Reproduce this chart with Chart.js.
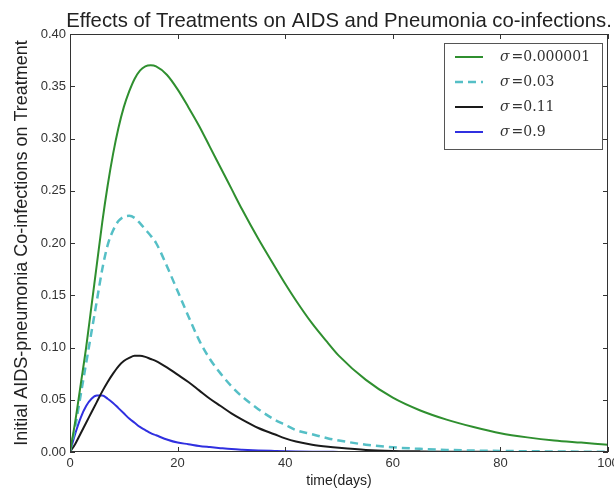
<!DOCTYPE html>
<html>
<head>
<meta charset="utf-8">
<script src="https://cdn.jsdelivr.net/npm/chart.js@4.4.1/dist/chart.umd.min.js"></script>
<style>
  html, body { margin: 0; padding: 0; background: #fff; }
  #wrap { width: 614px; height: 492px; }
</style>
</head>
<body>
<div id="wrap"><canvas id="grafica"></canvas></div>
<script>
// tiempo (días)
const dias = [0, 1, 2, 3, 4, 5, 6, 7, 8, 9, 10, 11, 12, 13, 14, 15, 16,
  18, 20, 22, 24, 26, 28, 30, 32, 35, 38, 40, 42, 45, 48, 50, 55, 60, 65, 70, 75, 80, 85, 90, 95, 100]

// sigma = 0.000001
const serieVerde = [0, 0.030, 0.065, 0.100, 0.140, 0.180, 0.220, 0.255, 0.285, 0.310, 0.330, 0.345, 0.357, 0.365, 0.369, 0.370, 0.369,
  0.361, 0.347, 0.330, 0.312, 0.292, 0.272, 0.252, 0.232, 0.204, 0.178, 0.161, 0.145, 0.123, 0.104, 0.092, 0.069, 0.052, 0.040, 0.031, 0.024, 0.018, 0.014, 0.011, 0.009, 0.007]

// sigma = 0.03
const serieCian = [0, 0.025, 0.055, 0.085, 0.115, 0.145, 0.175, 0.198, 0.212, 0.221, 0.225, 0.226, 0.224, 0.219, 0.213, 0.207, 0.200,
  0.178, 0.154, 0.130, 0.107, 0.089, 0.075, 0.063, 0.053, 0.041, 0.031, 0.026, 0.021, 0.017, 0.013, 0.011, 0.007, 0.0045, 0.003, 0.002, 0.0014, 0.001, 0.0007, 0.0005, 0.0003, 0.0002]

// sigma = 0.11
const serieNegra = [0, 0.008, 0.018, 0.028, 0.038, 0.048, 0.058, 0.067, 0.075, 0.082, 0.087, 0.090, 0.092, 0.092, 0.091, 0.089, 0.087,
  0.081, 0.074, 0.067, 0.059, 0.051, 0.044, 0.037, 0.031, 0.023, 0.017, 0.013, 0.010, 0.007, 0.005, 0.004, 0.002, 0.001, 0.0006, 0.0003, 0.0002, 0.0001, 0, 0, 0, 0]

// sigma = 0.9
const serieAzul = [0, 0.018, 0.033, 0.044, 0.051, 0.054, 0.054, 0.051, 0.047, 0.042, 0.037, 0.032, 0.028, 0.024, 0.021, 0.018, 0.016,
  0.012, 0.009, 0.0075, 0.0058, 0.0047, 0.0037, 0.0028, 0.0022, 0.0015, 0.001, 0.0007, 0.0005, 0.0003, 0.0002, 0.0001, 0, 0, 0, 0, 0, 0, 0, 0, 0, 0]

const valoresSigma = ["0.000001", "0.03", "0.11", "0.9"]
const ticksX = [0, 20, 40, 60, 80, 100]
const ticksY = [0, 0.05, 0.10, 0.15, 0.20, 0.25, 0.30, 0.35, 0.40]

const titulo = "Effects of Treatments on AIDS and Pneumonia co-infections."

function puntos(serie) {
  return dias.map((d, i) => ({ x: d, y: serie[i] }))
}

// Marcas hacia dentro, marco, título y leyenda al estilo matplotlib
const estiloClasico = {
  id: "estiloClasico",
  afterDraw(chart) {
    const { ctx, chartArea: a, scales } = chart
    ctx.save()

    // marco
    ctx.strokeStyle = "#333"
    ctx.lineWidth = 1
    ctx.strokeRect(a.left + 0.5, a.top + 0.5, a.right - a.left - 1, a.bottom - a.top - 1)

    // marcas
    const largo = 5
    ctx.beginPath()
    ticksX.forEach(v => {
      const px = Math.round(scales.x.getPixelForValue(v)) + 0.5
      ctx.moveTo(px, a.bottom); ctx.lineTo(px, a.bottom - largo)
      ctx.moveTo(px, a.top); ctx.lineTo(px, a.top + largo)
    })
    ticksY.forEach(v => {
      const py = Math.round(scales.y.getPixelForValue(v)) + 0.5
      ctx.moveTo(a.left, py); ctx.lineTo(a.left + largo, py)
      ctx.moveTo(a.right, py); ctx.lineTo(a.right - largo, py)
    })
    ctx.stroke()

    // título
    ctx.fillStyle = "#222"
    ctx.font = '20.3px "Liberation Sans", Arial, sans-serif'
    ctx.textAlign = "center"
    ctx.textBaseline = "alphabetic"
    ctx.fillText(titulo, (a.left + a.right) / 2, 27)

    // leyenda
    const caja = { x: a.right - 164, y: a.top + 9, w: 158, h: 106 }
    ctx.fillStyle = "#fff"
    ctx.fillRect(caja.x, caja.y, caja.w, caja.h)
    ctx.strokeStyle = "#555"
    ctx.strokeRect(caja.x + 0.5, caja.y + 0.5, caja.w, caja.h)

    chart.data.datasets.forEach((ds, i) => {
      const yFila = caja.y + 14 + i * 25
      ctx.beginPath()
      ctx.strokeStyle = ds.borderColor
      ctx.lineWidth = ds.borderWidth
      ctx.setLineDash(ds.borderDash || [])
      ctx.moveTo(caja.x + 11, yFila)
      ctx.lineTo(caja.x + 39, yFila)
      ctx.stroke()
      ctx.setLineDash([])

      ctx.fillStyle = "#333"
      ctx.textAlign = "left"
      ctx.textBaseline = "middle"
      ctx.font = 'italic 14px "DejaVu Serif", serif'
      const xTexto = caja.x + 56
      ctx.fillText("σ", xTexto, yFila)
      const anchoSigma = ctx.measureText("σ").width
      ctx.font = '14px "DejaVu Serif", serif'
      ctx.fillText("=" + valoresSigma[i], xTexto + anchoSigma + 2, yFila)
    })

    ctx.restore()
  }
}

const ctx = document.getElementById("grafica")
new Chart(ctx, {
  type: "line",
  data: {
    datasets: [{
      label: "σ=" + valoresSigma[0],
      data: puntos(serieVerde),
      borderColor: "#2f8f2f",
      borderWidth: 2,
    },
    {
      label: "σ=" + valoresSigma[1],
      data: puntos(serieCian),
      borderColor: "#55bfc6",
      borderWidth: 2.5,
      borderDash: [8, 5],
    },
    {
      label: "σ=" + valoresSigma[2],
      data: puntos(serieNegra),
      borderColor: "#1a1a1a",
      borderWidth: 2,
    },
    {
      label: "σ=" + valoresSigma[3],
      data: puntos(serieAzul),
      borderColor: "#3030e0",
      borderWidth: 2,
    }]
  },
  options: {
    responsive: true,
    maintainAspectRatio: false,
    animation: false,
    elements: {
      point: { radius: 0 },
      line: { cubicInterpolationMode: "monotone" }
    },
    layout: { padding: { top: 34, right: 6, left: 0, bottom: 0 } },
    plugins: {
      legend: { display: false },
      title: { display: false },
      tooltip: { enabled: false }
    },
    scales: {
      x: {
        type: "linear",
        min: 0,
        max: 100,
        grid: { display: false, drawTicks: false },
        border: { display: false },
        afterBuildTicks: scale => { scale.ticks = ticksX.map(v => ({ value: v })) },
        ticks: {
          color: "#333",
          font: { family: '"Liberation Sans", Arial, sans-serif', size: 13 },
          padding: 4,
          maxRotation: 0,
          autoSkip: false,
        },
        title: {
          display: true,
          text: "time(days)",
          color: "#222",
          font: { family: '"Liberation Sans", Arial, sans-serif', size: 14 },
          padding: { top: 0, bottom: 2 }
        },
        afterFit: scale => { scale.height = 40; scale.paddingLeft = 0; scale.paddingRight = 0 }
      },
      y: {
        min: 0,
        max: 0.4,
        grid: { display: false, drawTicks: false },
        border: { display: false },
        afterBuildTicks: scale => { scale.ticks = ticksY.map(v => ({ value: v })) },
        ticks: {
          color: "#333",
          font: { family: '"Liberation Sans", Arial, sans-serif', size: 13 },
          padding: 4,
          callback: v => v.toFixed(2),
        },
        title: {
          display: true,
          text: "Initial AIDS-pneumonia Co-infections on Treatment",
          color: "#222",
          font: { family: '"Liberation Sans", Arial, sans-serif', size: 18 },
          padding: { top: 11, bottom: 0 }
        },
        afterFit: scale => { scale.width = 70; scale.paddingTop = 0; scale.paddingBottom = 0 }
      }
    }
  },
  plugins: [estiloClasico]
})
</script>
</body>
</html>
